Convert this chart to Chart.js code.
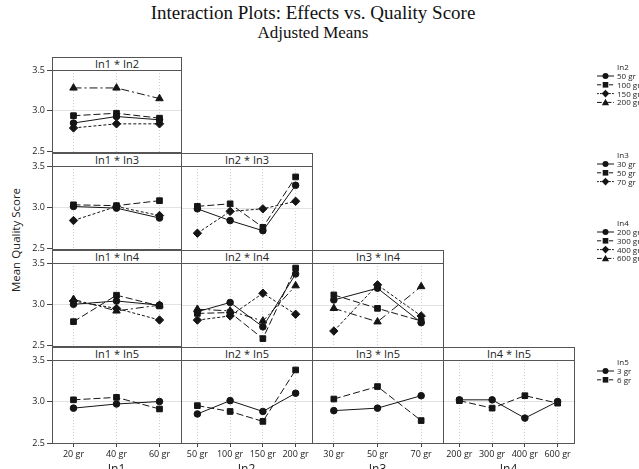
<!DOCTYPE html>
<html>
<head>
<meta charset="utf-8">
<script src="https://cdn.jsdelivr.net/npm/chart.js@4.4.1/dist/chart.umd.min.js"></script>
<style>
  html, body { margin: 0; padding: 0; background: #fff; width: 639px; height: 469px; overflow: hidden; position: relative; font-family: "Open Sans", sans-serif; }
  canvas { position: absolute; }
  .hdr { position: absolute; box-sizing: border-box; border: 1px solid #555; font-size: 11px; line-height: 11px; text-align: center; color: #222; }
  .txt { position: absolute; white-space: nowrap; color: #111; }
  #titulo { left: 0; width: 626px; top: 3px; text-align: center; font-family: "Liberation Serif", serif; font-size: 19px; line-height: 20px; }
  #sub { left: 0; width: 626px; top: 24px; text-align: center; font-family: "Liberation Serif", serif; font-size: 17px; line-height: 18px; }
  #ylab { left: 15px; top: 240px; font-size: 11.5px; color: #222; transform: translate(-50%, -50%) rotate(-90deg); }
  .xt { position: absolute; top: 460px; font-size: 12px; color: #222; transform: translateX(-50%); }
</style>
</head>
<body>
<div class="txt" id="titulo">Interaction Plots: Effects vs. Quality Score</div>
<div class="txt" id="sub">Adjusted Means</div>
<div class="txt" id="ylab">Mean Quality Score</div>
<script>
// níveis dos fatores
const in1Levels = ['20 gr', '40 gr', '60 gr'];
const in2Levels = ['50 gr', '100 gr', '150 gr', '200 gr'];
const in3Levels = ['30 gr', '50 gr', '70 gr'];
const in4Levels = ['200 gr', '300 gr', '400 gr', '600 gr'];
const in5Levels = ['3 gr', '6 gr'];

// médias ajustadas (uma linha por nível do segundo fator)
const in1In2 = [[2.85, 2.93, 2.89], [2.94, 2.97, 2.91], [2.79, 2.84, 2.84], [3.28, 3.28, 3.15]];
const in1In3 = [[3.01, 2.99, 2.87], [3.03, 3.02, 3.08], [2.84, 3.01, 2.90]];
const in2In3 = [[2.99, 2.85, 2.73, 3.27], [3.02, 3.05, 2.77, 3.37], [2.70, 2.96, 2.99, 3.08]];
const in1In4 = [[3.00, 3.04, 2.99], [2.79, 3.11, 2.98], [3.04, 2.95, 2.81], [3.06, 2.92, 2.99]];
const in2In4 = [[2.92, 3.03, 2.74, 3.37], [2.90, 2.91, 2.60, 3.44], [2.82, 2.87, 3.14, 2.89], [2.95, 2.93, 2.81, 3.23]];
const in3In4 = [[3.06, 3.20, 2.79], [3.12, 2.96, 2.81], [2.69, 3.24, 2.87], [2.96, 2.80, 3.22]];
const in1In5 = [[2.92, 2.97, 3.00], [3.02, 3.05, 2.91]];
const in2In5 = [[2.85, 3.01, 2.88, 3.10], [2.95, 2.88, 2.76, 3.38]];
const in3In5 = [[2.89, 2.92, 3.07], [3.03, 3.18, 2.77]];
const in4In5 = [[3.02, 3.02, 2.80, 3.00], [3.01, 2.92, 3.07, 2.98]];

const yTicks = [2.5, 3.0, 3.5];

// estilo das séries
const tracos = [[], [7, 3], [3, 2], [8, 3, 2, 3]];
const formas = ['circle', 'rect', 'rectRot', 'triangle'];
const raios = [3.3, 4, 4.2, 4.3];
const corLinha = '#151515';

// grade dos painéis
const colX = [52, 181, 312, 443, 574];
const rowTop = [57, 153, 250, 347];
const rowBottom = [153, 250, 347, 443];
const HDR = 13;

const paineis = [
  { row: 0, col: 0, titulo: 'In1 * In2', labels: in1Levels, series: in1In2 },
  { row: 1, col: 0, titulo: 'In1 * In3', labels: in1Levels, series: in1In3 },
  { row: 1, col: 1, titulo: 'In2 * In3', labels: in2Levels, series: in2In3 },
  { row: 2, col: 0, titulo: 'In1 * In4', labels: in1Levels, series: in1In4 },
  { row: 2, col: 1, titulo: 'In2 * In4', labels: in2Levels, series: in2In4 },
  { row: 2, col: 2, titulo: 'In3 * In4', labels: in3Levels, series: in3In4 },
  { row: 3, col: 0, titulo: 'In1 * In5', labels: in1Levels, series: in1In5 },
  { row: 3, col: 1, titulo: 'In2 * In5', labels: in2Levels, series: in2In5 },
  { row: 3, col: 2, titulo: 'In3 * In5', labels: in3Levels, series: in3In5 },
  { row: 3, col: 3, titulo: 'In4 * In5', labels: in4Levels, series: in4In5 }
];

const legendas = [
  { titulo: 'In2', itens: in2Levels, y: 67 },
  { titulo: 'In3', itens: in3Levels, y: 155 },
  { titulo: 'In4', itens: in4Levels, y: 223 },
  { titulo: 'In5', itens: in5Levels, y: 362 }
];

const eixosX = ['In1', 'In2', 'In3', 'In4'];

// moldura do painel
const moldura = {
  id: 'moldura',
  beforeDatasetsDraw(chart) {
    const a = chart.chartArea;
    const ctx = chart.ctx;
    ctx.save();
    ctx.strokeStyle = '#555';
    ctx.lineWidth = 1;
    ctx.strokeRect(Math.round(a.left) + 0.5, Math.round(a.top) + 0.5, Math.round(a.right - a.left), Math.round(a.bottom - a.top));
    ctx.restore();
  }
};

function criarCabecalho(p) {
  const d = document.createElement('div');
  d.className = 'hdr';
  d.style.left = colX[p.col] + 'px';
  d.style.top = rowTop[p.row] + 'px';
  d.style.width = (colX[p.col + 1] - colX[p.col] + 1) + 'px';
  d.style.height = (HDR + 1) + 'px';
  d.textContent = p.titulo;
  document.body.appendChild(d);
}

function criarPainel(p) {
  const colW = colX[p.col + 1] - colX[p.col];
  const plotTop = rowTop[p.row] + HDR;
  const plotH = rowBottom[p.row] - plotTop;
  const primeiraCol = p.col === 0;
  const ultimaLinha = p.row === 3;
  const padL = primeiraCol ? 46 : 6, padT = 8, padR = 6, padB = ultimaLinha ? 24 : 6;

  const canvas = document.createElement('canvas');
  canvas.width = colW + padL + padR;
  canvas.height = plotH + padT + padB;
  canvas.style.left = (colX[p.col] - padL) + 'px';
  canvas.style.top = (plotTop - padT) + 'px';
  document.body.appendChild(canvas);

  new Chart(canvas.getContext('2d'), {
    type: 'line',
    data: {
      labels: p.labels,
      datasets: p.series.map((vals, i) => ({
        data: vals,
        borderColor: corLinha,
        backgroundColor: corLinha,
        borderWidth: 1,
        borderDash: tracos[i],
        pointStyle: formas[i],
        pointRadius: raios[i],
        pointHoverRadius: raios[i],
        pointBorderWidth: 1,
        tension: 0,
        fill: false
      }))
    },
    options: {
      responsive: false,
      animation: false,
      events: [],
      layout: {
        autoPadding: false,
        padding: { left: primeiraCol ? 0 : padL, top: padT, right: padR, bottom: ultimaLinha ? 0 : padB }
      },
      plugins: { legend: { display: false }, tooltip: { enabled: false } },
      scales: {
        x: {
          type: 'category',
          offset: true,
          grid: { offset: false, color: '#cfcfcf', drawTicks: ultimaLinha, tickLength: 4, tickColor: '#444', tickBorderDash: [] },
          border: { display: false, dash: [1, 2] },
          ticks: { display: ultimaLinha, color: '#222', font: { family: 'Open Sans', size: 9 }, padding: 2, maxRotation: 0, autoSkip: false },
          afterFit: s => { s.height = ultimaLinha ? padB : 0; }
        },
        y: {
          min: yTicks[0],
          max: yTicks[yTicks.length - 1],
          afterBuildTicks: s => { s.ticks = yTicks.map(v => ({ value: v })); },
          grid: {
            color: c => (c.tick && c.tick.value === 3) ? '#e2e2e2' : 'rgba(0,0,0,0)',
            drawTicks: primeiraCol, tickLength: 5, tickColor: '#444'
          },
          border: { display: false },
          ticks: { display: primeiraCol, color: '#222', font: { family: 'Open Sans', size: 9 }, padding: 2, callback: v => Number(v).toFixed(1) },
          afterFit: s => { s.width = primeiraCol ? padL : 0; }
        }
      }
    },
    plugins: [moldura]
  });
}

paineis.forEach(criarCabecalho);
paineis.forEach(criarPainel);

// títulos dos eixos x
eixosX.forEach((t, i) => {
  const d = document.createElement('div');
  d.className = 'xt';
  d.style.left = ((colX[i] + colX[i + 1]) / 2) + 'px';
  d.textContent = t;
  document.body.appendChild(d);
});

// legendas à direita
function simbolo(forma, cx, cy) {
  if (forma === 'circle') return `<circle cx="${cx}" cy="${cy}" r="3" fill="${corLinha}"/>`;
  if (forma === 'rect') return `<rect x="${cx - 2.8}" y="${cy - 2.8}" width="5.6" height="5.6" fill="${corLinha}"/>`;
  if (forma === 'rectRot') return `<polygon points="${cx},${cy - 3.8} ${cx + 3.8},${cy} ${cx},${cy + 3.8} ${cx - 3.8},${cy}" fill="${corLinha}"/>`;
  return `<polygon points="${cx},${cy - 3.6} ${cx + 3.6},${cy + 2.8} ${cx - 3.6},${cy + 2.8}" fill="${corLinha}"/>`;
}

let svg = '<svg xmlns="http://www.w3.org/2000/svg" width="639" height="469" style="position:absolute;left:0;top:0" font-family="Open Sans" font-size="8" fill="#222">';
legendas.forEach(l => {
  svg += `<text x="617" y="${l.y + 3}">${l.titulo}</text>`;
  l.itens.forEach((it, i) => {
    const cy = l.y + 9 + i * 8.8;
    const dash = tracos[i].length ? `stroke-dasharray="${tracos[i].map(v => v * 0.6).join(',')}"` : '';
    svg += `<line x1="597" y1="${cy}" x2="614" y2="${cy}" stroke="${corLinha}" stroke-width="1" ${dash}/>`;
    svg += simbolo(formas[i], 605.5, cy);
    svg += `<text x="617" y="${cy + 3}">${it}</text>`;
  });
});
svg += '</svg>';
document.body.insertAdjacentHTML('beforeend', svg);
</script>
</body>
</html>
